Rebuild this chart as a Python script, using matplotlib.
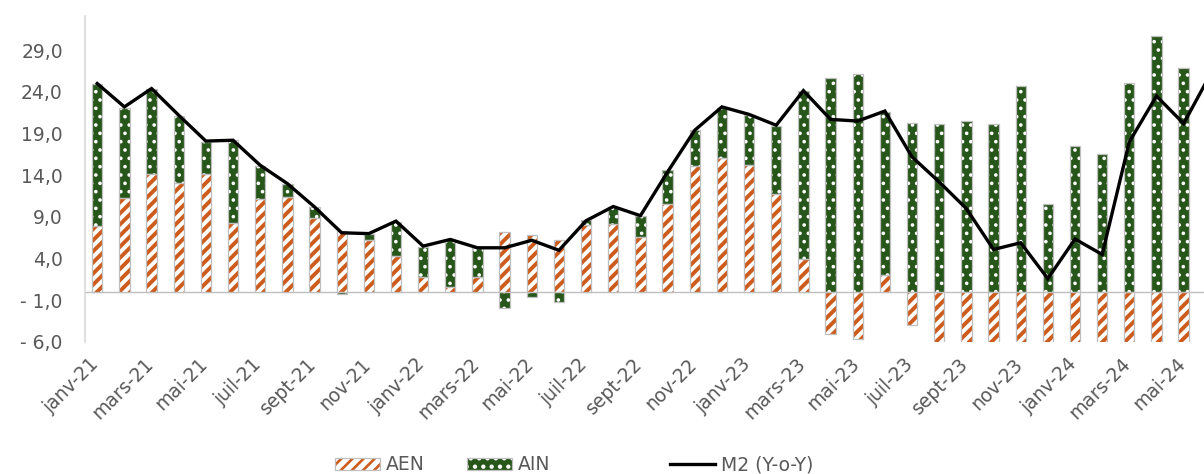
import numpy as np
import matplotlib

matplotlib.use("Agg")
import matplotlib.pyplot as plt
import matplotlib.transforms as mtransforms
from matplotlib.patches import Patch
from matplotlib.lines import Line2D
from matplotlib.ticker import FuncFormatter

months = [
    "janv-21", "févr-21", "mars-21", "avr-21", "mai-21", "juin-21",
    "juil-21", "août-21", "sept-21", "oct-21", "nov-21", "déc-21",
    "janv-22", "févr-22", "mars-22", "avr-22", "mai-22", "juin-22",
    "juil-22", "août-22", "sept-22", "oct-22", "nov-22", "déc-22",
    "janv-23", "févr-23", "mars-23", "avr-23", "mai-23", "juin-23",
    "juil-23", "août-23", "sept-23", "oct-23", "nov-23", "déc-23",
    "janv-24", "févr-24", "mars-24", "avr-24", "mai-24", "juin-24",
]

# contributions to M2 growth (points), year over year
aen = [
    7.9, 11.3, 14.2, 13.1, 14.2, 8.3, 11.1, 11.35, 8.9, 7.3, 6.2, 4.3,
    1.8, 0.65, 1.75, 7.2, 6.8, 6.2, 8.0, 8.2, 6.6, 10.5, 15.1, 16.1,
    15.2, 11.8, 3.9, -5.05, -5.7, 2.0, -4.0, -6.9, -10.5, -15.0, -18.8, -9.0,
    -11.15, -12.1, -7.1, -7.2, -6.7,
]
ain = [
    17.0, 10.8, 10.2, 8.0, 3.8, 9.9, 4.0, 1.6, 1.3, -0.2, 0.8, 4.1,
    3.6, 5.6, 3.5, -1.9, -0.6, -1.25, 0.6, 2.0, 2.5, 4.1, 4.3, 6.0,
    6.0, 8.1, 20.2, 25.7, 26.1, 19.6, 20.3, 20.1, 20.5, 20.1, 24.7, 10.6,
    17.5, 16.6, 25.1, 30.7, 26.9,
]
m2 = [
    25.0, 22.2, 24.4, 21.2, 18.1, 18.2, 15.2, 13.0, 10.2, 7.1, 7.0, 8.5,
    5.5, 6.3, 5.3, 5.3, 6.2, 5.0, 8.55, 10.25, 9.15, 14.4, 19.4, 22.2,
    21.3, 20.0, 24.15, 20.7, 20.5, 21.7, 16.2, 13.2, 10.0, 5.1, 5.9, 1.6,
    6.35, 4.5, 18.0, 23.5, 20.2, 26.2,
]

ORANGE = "#CD5B1C"
GREEN = "#27561A"
EDGE = "#BFBFBF"
TEXT = "#595959"

plt.rcParams["font.family"] = ["DejaVu Sans"]
plt.rcParams["hatch.linewidth"] = 1.9

fig = plt.figure(figsize=(12.04, 4.74), dpi=100)
ax = fig.add_axes([0.0706, 0.2785, 0.9294, 0.6877])

n = len(aen)
x = np.arange(n)
aen_a = np.array(aen)
ain_a = np.array(ain)
# Excel-style stacking: positives pile up, negatives pile down
ain_bottom = np.where(ain_a >= 0, np.clip(aen_a, 0, None), np.clip(aen_a, None, 0))
w = 0.38


def set_hatch_lw(patches, lw):
    for p in patches:
        if hasattr(p, "set_hatch_linewidth"):
            p.set_hatch_linewidth(lw)


def hatched_bars(vals, bottom, face, hcolor, hatch, hlw):
    ax.bar(x, vals, w, bottom=bottom, color=face, linewidth=0, zorder=2)
    bars = ax.bar(x, vals, w, bottom=bottom, color="none", edgecolor=hcolor,
                  hatch=hatch, linewidth=0, zorder=3)
    set_hatch_lw(bars, hlw)
    ax.bar(x, vals, w, bottom=bottom, color="none", edgecolor=EDGE,
           linewidth=0.9, zorder=4)


hatched_bars(aen_a, 0, "white", ORANGE, "///", 2.8)
hatched_bars(ain_a, ain_bottom, GREEN, "white", "..", 1.4)

ax.plot(np.arange(len(m2)), m2, color="black", lw=2.4, zorder=5,
        solid_joinstyle="miter")

ax.axhline(0, color=EDGE, lw=1.0, zorder=1)

ax.set_xlim(-0.45, 40.75)
ax.set_ylim(-6, 33.1)
ax.set_yticks(np.arange(-6, 30, 5))


def fr_fmt(v, _):
    s = f"{abs(v):.1f}".replace(".", ",")
    return f"- {s}" if v < 0 else s


ax.yaxis.set_major_formatter(FuncFormatter(fr_fmt))
ax.set_xticks(x[::2])
ax.set_xticklabels(months[:n:2], rotation=45, ha="right",
                   rotation_mode="anchor")
ax.tick_params(axis="y", length=0, pad=16, labelsize=13.5, labelcolor=TEXT)
ax.tick_params(axis="x", length=0, pad=9, labelsize=13.5, labelcolor=TEXT)

# nudge the slanted month labels a little to the left of their ticks
shift = mtransforms.ScaledTranslation(-0.08, 0, fig.dpi_scale_trans)
for lbl in ax.get_xticklabels():
    lbl.set_transform(lbl.get_transform() + shift)

for side in ("top", "right", "bottom"):
    ax.spines[side].set_visible(False)
ax.spines["left"].set_color("#D9D9D9")
ax.spines["left"].set_linewidth(1.2)


def hatch_handle(face, hcolor, hatch, hlw):
    hp = Patch(facecolor="none", edgecolor=hcolor, hatch=hatch, linewidth=0)
    set_hatch_lw([hp], hlw)
    return (Patch(facecolor=face, linewidth=0), hp,
            Patch(facecolor="none", edgecolor=EDGE, linewidth=0.9))


entries = [
    (hatch_handle("white", ORANGE, "///", 2.8), "AEN", 335),
    (hatch_handle(GREEN, "white", "..", 1.4), "AIN", 467),
    (Line2D([], [], color="black", lw=2.4), "M2 (Y-o-Y)", 670),
]
for handle, label, px in entries:
    fig.legend([handle], [label], loc="center left",
               bbox_to_anchor=(px / 1204, 0.019), frameon=False,
               fontsize=13.5, labelcolor=TEXT, borderpad=0, borderaxespad=0,
               handlelength=2.4, handleheight=0.55, handletextpad=0.3)

fig.savefig("out.png", dpi=100)
